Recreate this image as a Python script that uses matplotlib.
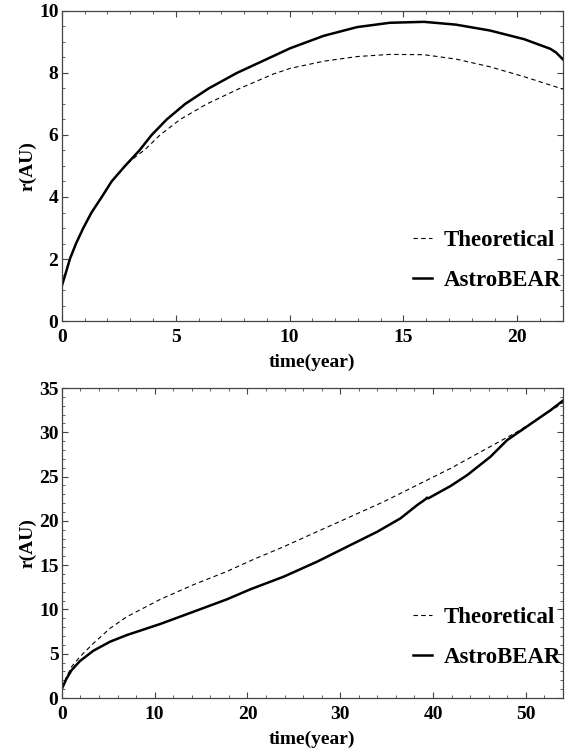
import matplotlib
matplotlib.use('Agg')
import matplotlib.pyplot as plt
from matplotlib.ticker import MultipleLocator

plt.rcParams['font.family'] = 'Liberation Serif'
plt.rcParams['font.weight'] = 'bold'

# top panel: short run
t1_theo = [0, 0.15, 0.35, 0.62, 0.94, 1.3, 1.75, 2.18, 2.77, 3.1, 3.65, 4.31, 5.19, 6.36,
           7.8, 9.3, 10.03, 11.5, 12.96, 14.4, 15.9, 17.3, 18.8, 20.3, 22.0]
r1_theo = [1.14, 1.5, 2.0, 2.5, 3.0, 3.5, 4.0, 4.5, 5.0, 5.22, 5.53, 6.0, 6.5, 7.0,
           7.5, 7.97, 8.15, 8.38, 8.53, 8.6, 8.59, 8.45, 8.2, 7.88, 7.48]
t1_sim = [0, 0.15, 0.35, 0.62, 0.94, 1.3, 1.75, 2.18, 2.77, 3.4, 3.94, 4.6, 5.41, 6.44,
          7.68, 9.15, 10.03, 10.84, 11.5, 12.96, 14.4, 15.9, 17.3, 18.8, 20.3, 21.45, 21.7, 22.0]
r1_sim = [1.14, 1.5, 2.0, 2.5, 3.0, 3.5, 4.0, 4.5, 5.0, 5.5, 6.0, 6.5, 7.0, 7.5,
          8.0, 8.5, 8.8, 9.02, 9.2, 9.48, 9.62, 9.65, 9.56, 9.37, 9.09, 8.78, 8.66, 8.44]

# bottom panel: long run
t2_theo = [0, 0.5, 1.05, 1.95, 3.39, 5.19, 7.0, 10.6, 14.2, 17.8, 20.5, 23.9, 27.5, 31.1,
           34.7, 38.3, 41.9, 45.5, 49.1, 52.7, 54.0]
r2_theo = [1.05, 2.4, 3.54, 4.67, 6.17, 7.87, 9.18, 11.14, 12.8, 14.3, 15.58, 17.08, 18.78, 20.47,
           22.17, 24.05, 25.93, 28.0, 30.07, 32.44, 33.34]
t2_sim = [0, 0.5, 1.05, 1.95, 3.39, 5.19, 7.0, 10.6, 14.2, 17.8, 20.3, 23.9, 27.5, 31.1,
          34.0, 36.5, 38.3, 39.2, 39.35, 39.5, 41.9, 43.7, 46.2, 48.0, 50.2, 52.7, 54.0]
r2_sim = [1.05, 2.2, 3.16, 4.18, 5.34, 6.36, 7.11, 8.36, 9.75, 11.15, 12.27, 13.7, 15.39, 17.27,
          18.78, 20.29, 21.79, 22.45, 22.62, 22.55, 23.94, 25.18, 27.25, 29.13, 30.71, 32.52, 33.57]

fig = plt.figure(figsize=(5.68, 7.53), dpi=100)
ax1 = fig.add_axes([0.109, 0.5737, 0.882, 0.4117])
ax2 = fig.add_axes([0.109, 0.073, 0.882, 0.4117])

panels = [
    (ax1, t1_theo, r1_theo, t1_sim, r1_sim, 22, 10, 5, 1, 2, 0.5),
    (ax2, t2_theo, r2_theo, t2_sim, r2_sim, 54, 35, 10, 2, 5, 1),
]
for ax, tt, rt, ts, rs, xmax, ymax, xmaj, xmin, ymaj, ymin in panels:
    ax.plot(tt, rt, color='black', linestyle=(0, (4, 3)), linewidth=0.8, label='Theoretical')
    ax.plot(ts, rs, color='black', linestyle='-', linewidth=1.8, label='AstroBEAR')
    ax.set_xlim(0, xmax)
    ax.set_ylim(0, ymax)
    ax.xaxis.set_major_locator(MultipleLocator(xmaj))
    ax.xaxis.set_minor_locator(MultipleLocator(xmin))
    ax.yaxis.set_major_locator(MultipleLocator(ymaj))
    ax.yaxis.set_minor_locator(MultipleLocator(ymin))
    ax.tick_params(which='both', direction='in', top=True, right=True, color='#444444', labelsize=14)
    ax.tick_params(axis='x', pad=6)
    ax.tick_params(axis='y', pad=2.5)
    ax.tick_params(which='major', length=4, width=0.8)
    ax.tick_params(which='minor', length=2, width=0.6)
    for sp in ax.spines.values():
        sp.set_color('#444444')
        sp.set_linewidth(0.9)
    ax.set_xlabel('time(year)', fontsize=14, fontweight='bold', labelpad=5)
    ax.set_ylabel('r(AU)', fontsize=14, fontweight='bold', labelpad=2)
    ax.legend(loc='upper left', bbox_to_anchor=(0.70, 0.295), frameon=False, fontsize=16.5,
              borderpad=0, borderaxespad=0, handlelength=0.85, handletextpad=0.5, labelspacing=0.85)

plt.savefig('out.png', dpi=100)
